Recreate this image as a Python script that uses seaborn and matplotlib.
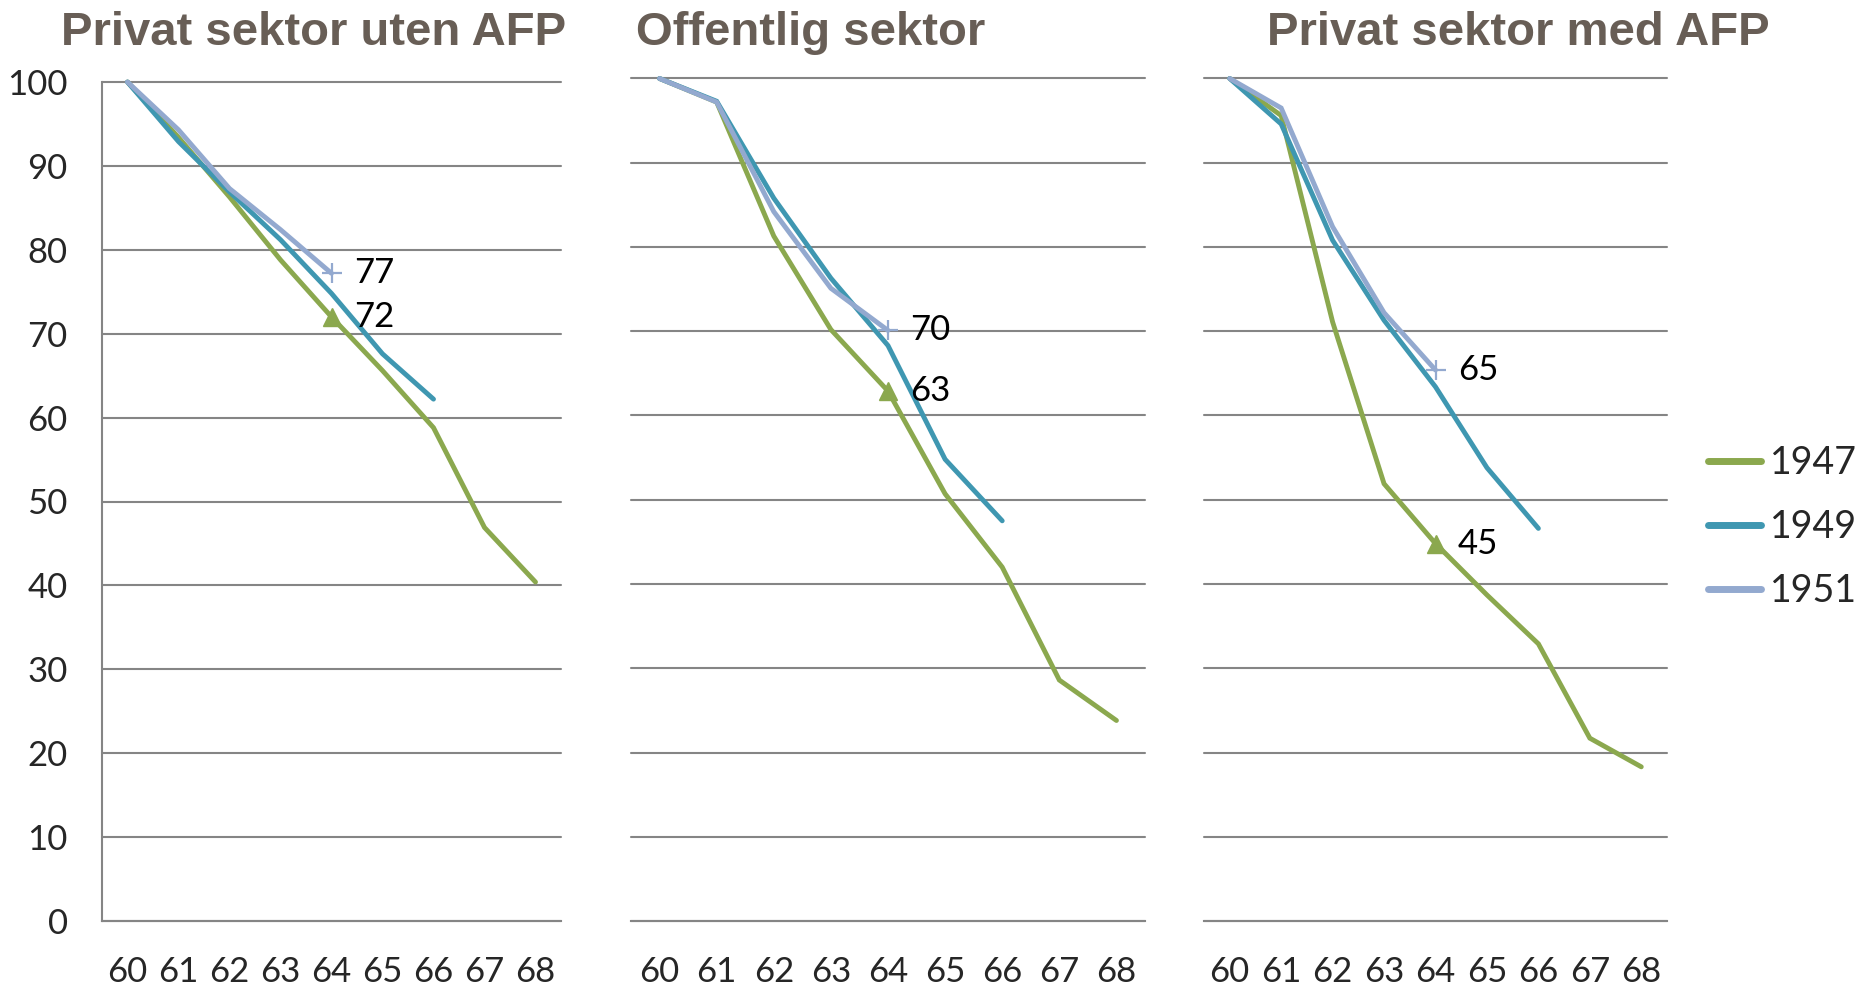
import matplotlib
matplotlib.use("Agg")
import pandas as pd
import matplotlib.pyplot as plt
import seaborn as sns

# ages on the x axis (categories), one series per birth cohort
ages = [60, 61, 62, 63, 64, 65, 66, 67, 68]
cohorts = ["1947", "1949", "1951"]
titles = ["Privat sektor uten AFP", "Offentlig sektor", "Privat sektor med AFP"]

uten_1947 = [100, 93.4, 86.3, 78.8, 72.0, 65.6, 58.8, 46.9, 40.4]
uten_1949 = [100, 92.9, 86.9, 81.2, 74.8, 67.6, 62.2, None, None]
uten_1951 = [100, 94.3, 87.3, 82.4, 77.2, None, None, None, None]

off_1947 = [100, 97.2, 81.3, 70.2, 62.9, 50.7, 42.0, 28.6, 23.8]
off_1949 = [100, 97.3, 85.8, 76.3, 68.3, 54.8, 47.5, None, None]
off_1951 = [100, 97.2, 84.2, 75.1, 70.1, None, None, None, None]

med_1947 = [100, 95.6, 71.1, 51.9, 44.8, 38.7, 32.9, 21.7, 18.3]
med_1949 = [100, 94.6, 80.8, 71.3, 63.4, 53.8, 46.6, None, None]
med_1951 = [100, 96.5, 82.4, 72.2, 65.4, None, None, None, None]

panels = [
    {"1947": uten_1947, "1949": uten_1949, "1951": uten_1951},
    {"1947": off_1947, "1949": off_1949, "1951": off_1951},
    {"1947": med_1947, "1949": med_1949, "1951": med_1951},
]
label_age = 64

colors = {"1947": "#8BA84E", "1949": "#3F97B1", "1951": "#93A9CF"}
grid_col = "#858585"
title_col = "#685E56"

sns.set_style("white")
plt.rcParams["font.family"] = ["Lato", "DejaVu Sans"]

W, H = 1864, 984
fig = plt.figure(figsize=(W / 100, H / 100), dpi=100)

# axes boxes in pixels: left, right, top (value 100), bottom (value 0)
boxes = [(102, 561, 82, 921), (631, 1145, 78.5, 921), (1204, 1667, 78.5, 921)]
title_x = [314, 811, 1518]

for i, (panel, box) in enumerate(zip(panels, boxes)):
    l, r, t, b = box
    ax = fig.add_axes([l / W, 1 - b / H, (r - l) / W, (b - t) / H])

    rows = []
    for c in cohorts:
        for a, v in zip(ages, panel[c]):
            if v is not None:
                rows.append({"age": a, "value": v, "cohort": c})
    df = pd.DataFrame(rows)

    sns.lineplot(data=df, x="age", y="value", hue="cohort", hue_order=cohorts,
                 palette=colors, linewidth=3.5, errorbar=None, ax=ax,
                 legend=(i == 2))
    for ln in ax.lines:
        ln.set_clip_on(False)
        ln.set_solid_capstyle("round")
        ln.set_solid_joinstyle("miter")

    # markers and value labels at age 64
    k = ages.index(label_age)
    v47 = panel["1947"][k]
    v51 = panel["1951"][k]
    ax.plot([label_age], [v47], marker="^", ms=13, color=colors["1947"],
            ls="none", clip_on=False)
    ax.plot([label_age], [v51], marker="+", ms=15, mew=1.6,
            color=colors["1951"], ls="none", clip_on=False)
    for v in (v47, v51):
        ax.annotate(f"{v:.0f}", (label_age, v), xytext=(16, 0),
                    textcoords="offset points", va="center", ha="left",
                    fontsize=25, color="black")

    ax.set_xlim(59.5, 68.5)
    ax.set_ylim(0, 100)
    ax.set_xticks([a - 0.5 for a in ages] + [ages[-1] + 0.5])
    ax.set_xticklabels([])
    ax.set_xticks(ages, minor=True)
    ax.set_xticklabels([str(a) for a in ages], minor=True)
    ax.tick_params(axis="x", which="major", direction="out", length=9,
                   width=1.5, color=grid_col)
    ax.tick_params(axis="x", which="minor", length=0, pad=25, labelsize=25)
    ax.set_yticks(range(0, 101, 10))
    ax.yaxis.grid(True, color=grid_col, linewidth=1.5)
    for gl in ax.yaxis.get_gridlines():
        gl.set_clip_on(False)
    ax.set_axisbelow(True)
    ax.set_xlabel("")
    ax.set_ylabel("")

    for s in ["top", "right"]:
        ax.spines[s].set_visible(False)
    ax.spines["bottom"].set_color(grid_col)
    ax.spines["bottom"].set_linewidth(1.5)
    if i == 0:
        ax.spines["left"].set_color(grid_col)
        ax.spines["left"].set_linewidth(1.5)
        ax.tick_params(axis="y", direction="out", length=8.6, width=1.5,
                       color=grid_col, pad=16, labelsize=25)
    else:
        ax.spines["left"].set_visible(False)
        ax.tick_params(axis="y", length=0, labelleft=False)

    fig.text(title_x[i] / W, 1 - 45 / H, titles[i], ha="center",
             va="baseline", fontsize=34, fontweight="bold", color=title_col,
             family=["Liberation Sans", "DejaVu Sans"])

    if i == 2:
        handles, labels = ax.get_legend_handles_labels()
        ax.get_legend().remove()
        for h in handles:
            h.set_linewidth(5)
            h.set_solid_capstyle("round")
        fig.legend(handles, labels, loc="center left",
                   bbox_to_anchor=(1708 / W, 1 - 527 / H), frameon=False,
                   fontsize=27, handlelength=1.4, handletextpad=0.25,
                   labelspacing=0.75, borderpad=0, borderaxespad=0)

fig.savefig("out.png", dpi=100)
